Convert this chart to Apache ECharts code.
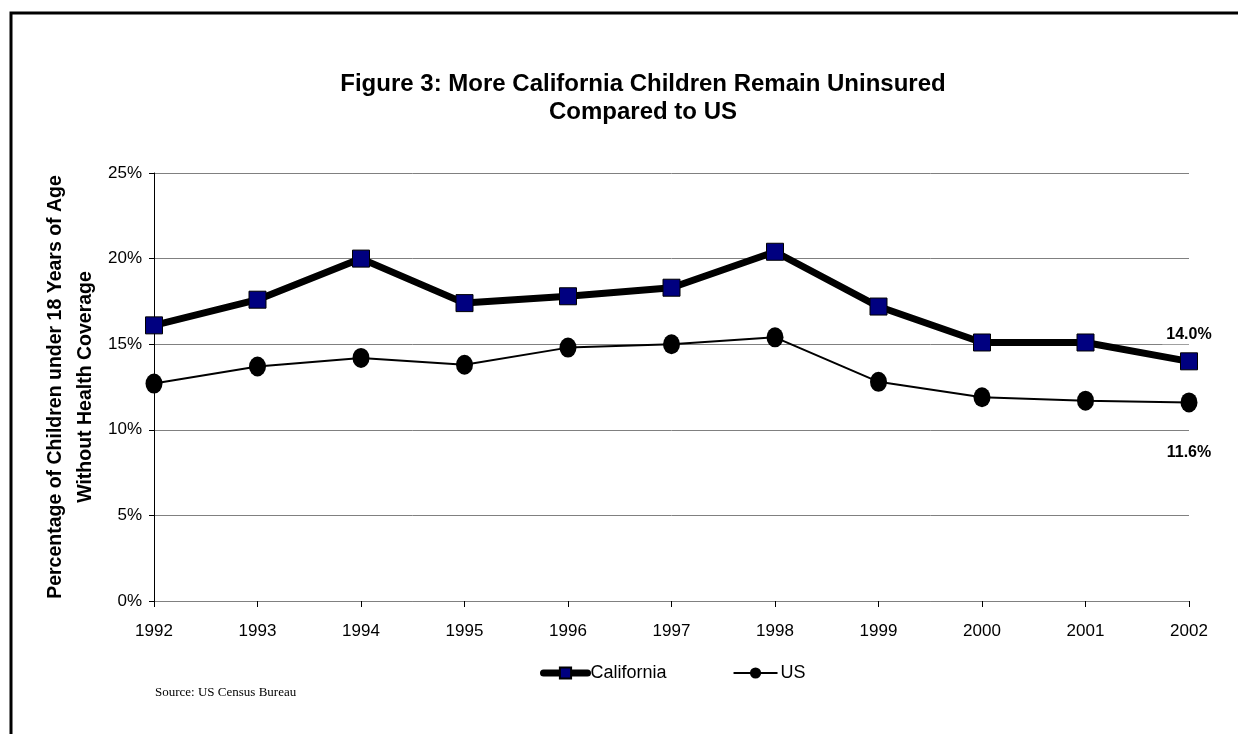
<!DOCTYPE html>
<html>
<head>
<meta charset="utf-8">
<style>
  html, body { margin: 0; padding: 0; background: #fff; }
  #chart { width: 1238px; height: 734px; }
</style>
<script src="https://cdn.jsdelivr.net/npm/echarts@6/dist/echarts.min.js"></script>
</head>
<body>
<div id="chart"></div>
<script>
// Share of children under 18 without health coverage, by year
const years = ['1992', '1993', '1994', '1995', '1996', '1997', '1998', '1999', '2000', '2001', '2002'];
const california = [16.1, 17.6, 20.0, 17.4, 17.8, 18.3, 20.4, 17.2, 15.1, 15.1, 14.0];
const us = [12.7, 13.7, 14.2, 13.8, 14.8, 15.0, 15.4, 12.8, 11.9, 11.7, 11.6];
const yTicks = [0, 5, 10, 15, 20, 25];

const FONT = '"Liberation Sans", Arial, sans-serif';

const chart = echarts.init(document.getElementById('chart'), null, { renderer: 'canvas' });

// Only the final year carries a value label
function withEndLabel(values, position, offset) {
  return values.map((v, i) => {
    if (i !== values.length - 1) return v;
    return {
      value: v,
      label: {
        show: true,
        position: position,
        offset: offset,
        formatter: p => p.value.toFixed(1) + '%',
        color: '#000',
        fontFamily: FONT,
        fontWeight: 'bold',
        fontSize: 16,
        backgroundColor: '#fff',
        padding: [2, 4]
      }
    };
  });
}

chart.setOption({
  animation: false,
  backgroundColor: '#fff',
  title: {
    text: 'Figure 3: More California Children Remain Uninsured\nCompared to US',
    left: 638,
    top: 65,
    textAlign: 'center',
    textStyle: {
      fontFamily: FONT,
      fontWeight: 'bold',
      fontSize: 24,
      lineHeight: 28,
      color: '#000'
    }
  },
  graphic: [
    {
      type: 'rect',
      shape: { x: 11, y: 13, width: 1300, height: 800 },
      style: { fill: 'none', stroke: '#000', lineWidth: 3 },
      silent: true
    },
    {
      type: 'text',
      left: 155,
      top: 686,
      style: {
        text: 'Source: US Census Bureau',
        fontFamily: '"Liberation Serif", "Times New Roman", serif',
        fontSize: 13,
        fill: '#000'
      }
    }
  ],
  legend: {
    top: 659,
    left: 535,
    itemGap: 66,
    itemWidth: 44,
    itemHeight: 14,
    lineStyle: { width: 'inherit' },
    textStyle: { fontFamily: FONT, fontSize: 18, color: '#000', padding: [0, 0, 0, -2] },
    data: ['California', 'US']
  },
  grid: { left: 154, right: 49, top: 173, bottom: 133, containLabel: false },
  xAxis: {
    type: 'category',
    data: years,
    boundaryGap: false,
    axisLine: { lineStyle: { color: '#808080', width: 1 } },
    axisTick: { show: true, length: 6, lineStyle: { color: '#000' } },
    axisLabel: { margin: 22, fontFamily: FONT, fontSize: 17, color: '#000' }
  },
  yAxis: {
    type: 'value',
    min: yTicks[0],
    max: yTicks[yTicks.length - 1],
    interval: 5,
    name: 'Percentage of Children under 18 Years of Age\nWithout Health Coverage',
    nameLocation: 'middle',
    nameRotate: 90,
    nameGap: 53,
    nameMoveOverlap: false,
    nameTextStyle: {
      fontFamily: FONT,
      fontWeight: 'bold',
      fontSize: 19.5,
      lineHeight: 30,
      color: '#000'
    },
    axisLine: { show: true, lineStyle: { color: '#000', width: 1 } },
    axisTick: { show: true, inside: false, length: 5, lineStyle: { color: '#000' } },
    axisLabel: {
      margin: 12,
      fontFamily: FONT,
      fontSize: 17,
      color: '#000',
      formatter: v => v + '%'
    },
    splitLine: { show: true, lineStyle: { color: '#808080', width: 1 } }
  },
  series: [
    {
      name: 'California',
      type: 'line',
      data: withEndLabel(california, 'top', [0, -3]),
      symbol: 'rect',
      symbolSize: 17,
      lineStyle: { color: '#000', width: 7, cap: 'round' },
      itemStyle: { color: '#000080', borderColor: '#000', borderWidth: 1 },
      z: 3
    },
    {
      name: 'US',
      type: 'line',
      data: withEndLabel(us, 'bottom', [0, 25]),
      symbol: 'circle',
      symbolSize: [17, 20],
      lineStyle: { color: '#000', width: 2 },
      itemStyle: { color: '#000', borderColor: '#000', borderWidth: 0 },
      z: 2
    }
  ]
});
</script>
</body>
</html>
